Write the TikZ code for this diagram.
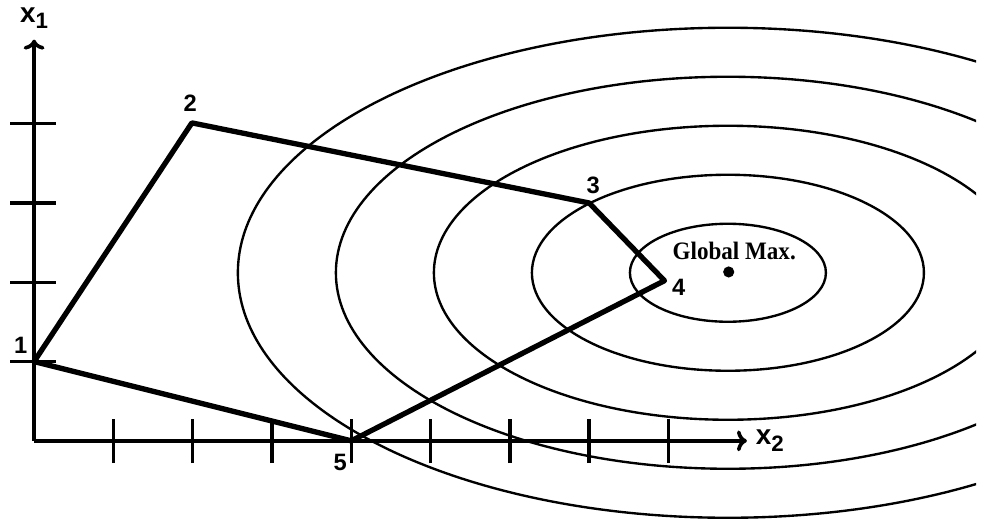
\documentclass[tikz,border=0pt]{standalone}
\usepackage{fontspec}
\setmainfont{Liberation Sans}
\newfontfamily\maxfont{Liberation Serif}
\usetikzlibrary{positioning,arrows.meta}

\tikzset{
  axis/.style={-{To[length=3.6pt,width=7.5pt]}, line width=1.3pt},
  tick/.style={line width=1.2pt},
  contour/.style={line width=0.85pt},
  path/.style={line width=1.9pt, line join=round},
  ptlabel/.style={font=\bfseries\fontsize{8.5}{9}\selectfont, inner sep=1pt},
  axlabel/.style={font=\bfseries\fontsize{10}{11}\selectfont, inner sep=1pt}
}

\begin{document}
\begin{tikzpicture}[x=1cm,y=1cm]
  \useasboundingbox (-0.43,-1.12) rectangle (12.03,5.56);
  % level curves round the maximum
  \begin{scope}
    \clip (-0.43,-1.12) rectangle (11.88,5.56);
    \foreach \k in {1,...,5}
      \draw[contour] (8.75,2.12) ellipse ({1.236*\k} and {0.618*\k});
  \end{scope}

  % axes
  \coordinate (O) at (0,0);
  \coordinate (x1tip) at (0,5.06);
  \coordinate (x2tip) at (8.99,0);
  \draw[axis] (O)--(x1tip);
  \draw[axis] (O)--(x2tip);
  \node[axlabel] (x1lab) at (0,5.33) {x\raisebox{-0.45ex}{\fontsize{8}{9}\selectfont 1}};
  \node[axlabel, right=2pt of x2tip] (x2lab) {x\raisebox{-0.45ex}{\fontsize{8}{9}\selectfont 2}};
  \foreach \i in {1,...,8}
    \draw[tick] (\i,-0.28)--(\i,0.27);
  \foreach \j in {1,...,4}
    \draw[tick] (-0.30,\j)--(0.27,\j);

  % search path
  \coordinate (p1) at (0,1);
  \coordinate (p2) at (1.99,4.01);
  \coordinate (p3) at (7.0,3.0);
  \coordinate (p4) at (7.95,2.02);
  \coordinate (p5) at (4,0);
  \draw[path] (p1)--(p2)--(p3)--(p4)--(p5)--cycle;
  \node[ptlabel] (l1) at (-0.17,1.20) {1};
  \node[ptlabel] (l2) at (1.97,4.26) {2};
  \node[ptlabel] (l3) at (7.05,3.22) {3};
  \node[ptlabel] (l4) at (8.13,1.94) {4};
  \node[ptlabel] (l5) at (3.86,-0.27) {5};

  % maximum
  \fill (8.76,2.13) coordinate (gmax) circle (2pt);
  \node[font=\maxfont\bfseries\fontsize{9}{10}\selectfont, inner sep=0pt]
    (gmaxlab) at (8.83,2.39) {\scalebox{0.92}[1]{Global Max.}};
\end{tikzpicture}
\end{document}
